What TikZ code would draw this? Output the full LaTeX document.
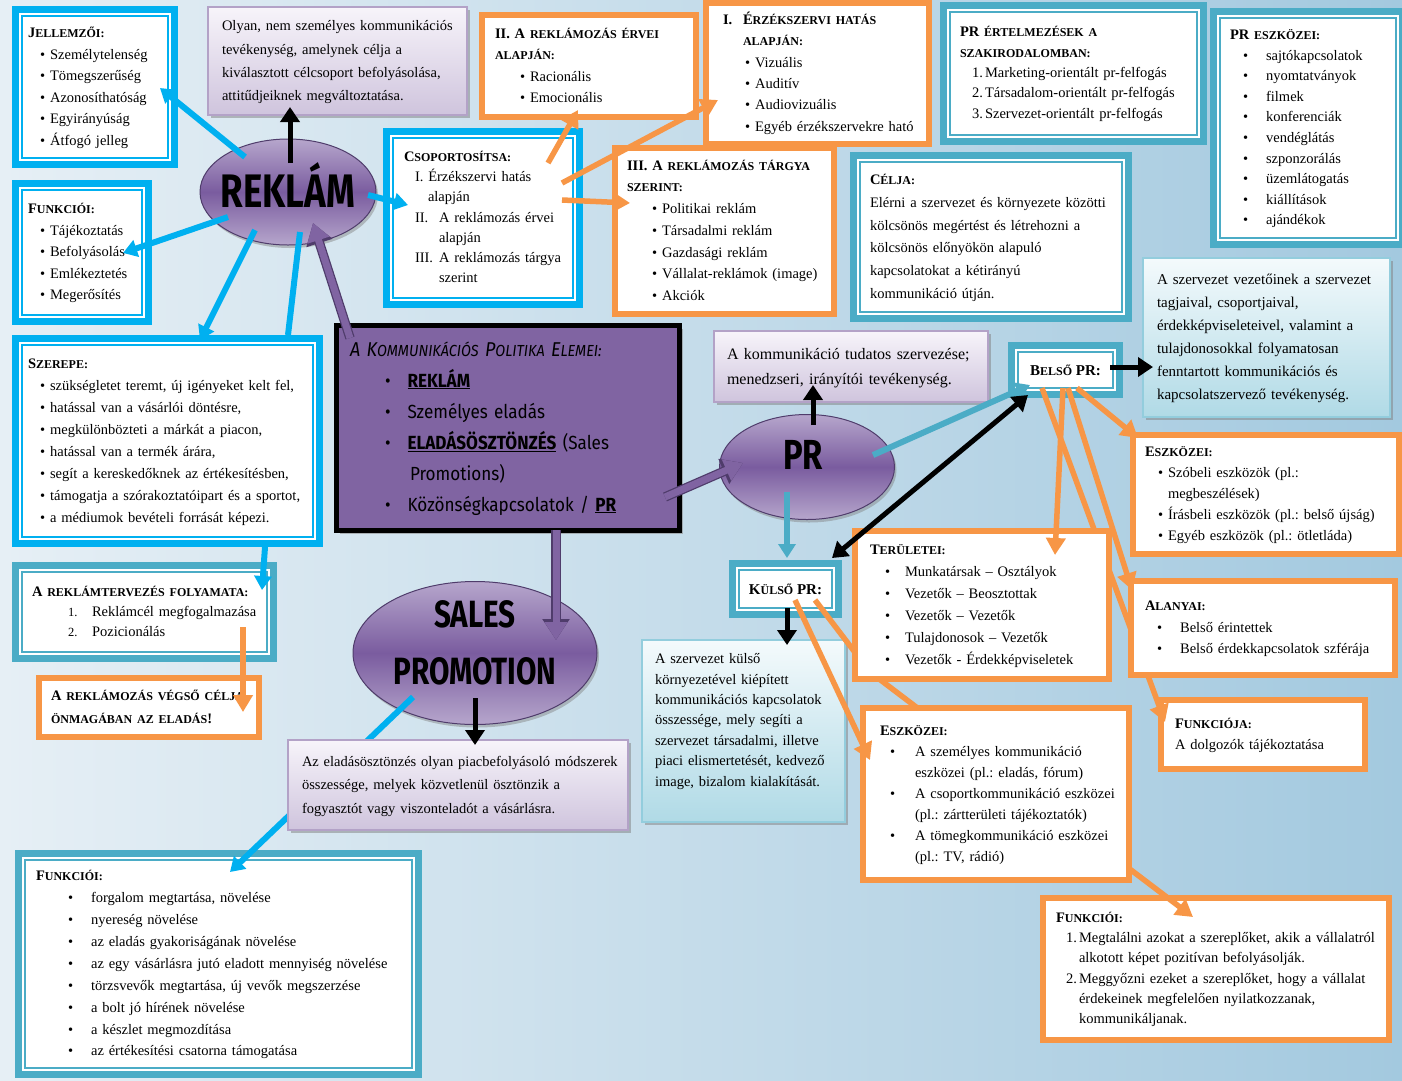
\documentclass[tikz,border=0pt]{standalone}
\usepackage{fontspec}
\setmainfont{Liberation Serif}
\newfontfamily\comic[FakeStretch=0.9]{Fira Sans}
\newfontfamily\comicw[FakeStretch=0.78]{Fira Sans}
\usepackage{tikz}
\usetikzlibrary{arrows.meta, calc, shapes.geometric, shadows}

\definecolor{cyanC}{HTML}{00B0F0}
\definecolor{tealC}{HTML}{4BACC6}
\definecolor{orangeC}{HTML}{F79646}
\definecolor{purC}{HTML}{8064A2}
\definecolor{purL}{HTML}{B6A6CC}
\definecolor{purM}{HTML}{7A5C9F}
\definecolor{purD}{HTML}{4F3C6B}
\definecolor{lavT}{HTML}{F7F4FA}
\definecolor{lavB}{HTML}{CFC4DD}
\definecolor{lavD}{HTML}{B3A2C7}
\definecolor{bluT}{HTML}{F4FAFC}
\definecolor{bluB}{HTML}{B0DAE6}
\definecolor{bluD}{HTML}{93CDDD}
\definecolor{bgL}{HTML}{E6EFF5}
\definecolor{bgR}{HTML}{A3C9DF}

\newcommand{\fs}[2]{\fontsize{#1}{#2}\selectfont}
\newcommand{\hd}[2]{{\bfseries #1{\fs{12}{12}#2}}}
\newcommand{\bl}[2]{\hspace*{#1}\textbullet\hspace{#2}}
\newcommand{\rows}[1]{\begin{tabular}{@{}l@{}}#1\end{tabular}}

\begin{document}
\frenchspacing
\begin{tikzpicture}[x=1pt, y=-1pt, thick,
  fr/.style={draw=#1, fill=white, line width=1.6pt, double=white,
    double distance=2pt, preaction={draw=#1, line width=16pt},
    align=left, inner ysep=2pt, font=\fs{14.5}{21.5}},
  cbox/.style={fr=cyanC},
  tbox/.style={fr=tealC},
  obox/.style={draw=orangeC, line width=6pt, fill=white, align=left,
    inner ysep=2pt, font=\fs{14.5}{21.5}},
  lbox/.style={draw=lavD, line width=1.2pt, top color=lavT, bottom color=lavB,
    drop shadow={shadow xshift=3pt, shadow yshift=-3pt, fill=black!50, opacity=.5},
    align=left, font=\fs{14.5}{23.3}},
  bbox/.style={lbox, draw=bluD, top color=bluT, bottom color=bluB},
  oval/.style={ellipse, draw=purD, line width=1pt, top color=purL,
    bottom color=purL, middle color=purM, inner sep=0pt,
    drop shadow={shadow xshift=2pt, shadow yshift=-3pt, fill=black!50, opacity=.45}},
  dims/.style n args={4}{minimum width=#1pt, minimum height=#2pt,
    inner xsep=#3pt, text width=#4pt},
  cyanarr/.style={draw=cyanC, line width=6pt, -{Triangle[length=14pt,width=17pt]}},
  tealarr/.style={cyanarr, draw=tealC},
  orarr/.style={draw=orangeC, line width=5.5pt, -{Triangle[length=17pt,width=19pt]}},
  blkarr/.style={draw=black, line width=5pt, -{Triangle[length=15pt,width=19pt]}},
  purarr/.style={draw=purC, line width=7pt, -{Triangle[length=18pt,width=22pt]},
    preaction={draw=purD, line width=9.5pt, -{Triangle[length=21pt,width=26pt]}}}]

\clip (0,0) rectangle (1402,1080);
\shade[left color=bgL, right color=bgR] (0,0) rectangle (1402,1080);

% ovals
\node[oval, minimum width=176pt, minimum height=106pt,
  label={[font=\comicw\bfseries\fs{47}{47}, yshift=7pt]center:REKLÁM}] (reklam) at (288,192) {};
\node[oval, minimum width=244pt, minimum height=143pt,
  label={[align=center, font=\comicw\bfseries\fs{38}{57}, yshift=10pt]center:SALES\\PROMOTION}] (sales) at (475,653) {};
\node[oval, minimum width=175pt, minimum height=105pt,
  label={[font=\comicw\bfseries\fs{42}{42}, xshift=-4pt, yshift=12pt]center:PR}] (pr) at (807,467) {};

\node[cbox, dims={150}{146}{8}{134}] (jell) at (95,87) {\rows{%
  \hd{J}{ELLEMZŐI:}\\
  \bl{12pt}{5pt}Személytelenség\\
  \bl{12pt}{5pt}Tömegszerűség\\
  \bl{12pt}{5pt}Azonosíthatóság\\
  \bl{12pt}{5pt}Egyirányúság\\
  \bl{12pt}{5pt}Átfogó jelleg}};

\node[lbox, dims={259}{108}{14}{231}] (olyan) at (337.5,61) {\rows{%
  Olyan, nem személyes kommunikációs\\
  tevékenység, amelynek célja a\\
  kiválasztott célcsoport befolyásolása,\\
  attitűdjeiknek megváltoztatása.}};

\node[cbox, dims={124}{129}{8}{108}] (funk1) at (82,252.5) {\rows{%
  \hd{F}{UNKCIÓI:}\\
  \bl{12pt}{5pt}Tájékoztatás\\
  \bl{12pt}{5pt}Befolyásolás\\
  \bl{12pt}{5pt}Emlékeztetés\\
  \bl{12pt}{5pt}Megerősítés}};

\node[cbox, dims={184}{164}{13}{158}, font=\fs{14.5}{20.3}] (csop) at (483,218) {\rows{%
  \hd{C}{SOPORTOSÍTSA:}\\
  \hspace*{11pt}I. Érzékszervi hatás\\
  \hspace*{24pt}alapján\\
  \hspace*{11pt}\makebox[24pt][l]{II.}A reklámozás érvei\\
  \hspace*{35pt}alapján\\
  \hspace*{11pt}\makebox[24pt][l]{III.}A reklámozás tárgya\\
  \hspace*{35pt}szerint}};

\node[obox, dims={214}{102}{13}{188}] (ervei) at (589,66) {\rows{%
  \hd{II. A\ }{REKLÁMOZÁS ÉRVEI}\\
  \hd{}{ALAPJÁN:}\\
  \bl{25pt}{5pt}Racionális\\
  \bl{25pt}{5pt}Emocionális}};

\node[obox, dims={223}{141}{17}{189}, font=\fs{14.5}{21.4}] (erzek) at (817.5,73.5) {\rows{%
  \makebox[20pt][l]{\textbf{I.}}\hd{É}{RZÉKSZERVI HATÁS}\\
  \hspace*{20pt}\hd{}{ALAPJÁN:}\\
  \bl{22pt}{5pt}Vizuális\\
  \bl{22pt}{5pt}Auditív\\
  \bl{22pt}{5pt}Audiovizuális\\
  \bl{22pt}{5pt}Egyéb érzékszervekre ható}};

\node[obox, dims={219}{166}{12}{195}, font=\fs{14.5}{21.7}] (targy) at (724.5,231) {\rows{%
  \hd{III. A\ }{REKLÁMOZÁS TÁRGYA}\\
  \hd{}{SZERINT:}\\
  \bl{25pt}{5pt}Politikai reklám\\
  \bl{25pt}{5pt}Társadalmi reklám\\
  \bl{25pt}{5pt}Gazdasági reklám\\
  \bl{25pt}{5pt}Vállalat-reklámok (image)\\
  \bl{25pt}{5pt}Akciók}};

\node[tbox, dims={251}{127}{12}{227}, font=\fs{14.5}{20.3}] (ertelm) at (1073.5,73.5) {\rows{%
  \hd{PR\ }{ÉRTELMEZÉSEK A}\\
  \hd{}{SZAKIRODALOMBAN:}\\
  \hspace*{12pt}\makebox[13pt][l]{1.}Marketing-orientált pr-felfogás\\
  \hspace*{12pt}\makebox[13pt][l]{2.}Társadalom-orientált pr-felfogás\\
  \hspace*{12pt}\makebox[13pt][l]{3.}Szervezet-orientált pr-felfogás}};

\node[tbox, dims={180}{224}{12}{156}, font=\fs{14.5}{20.6}] (eszk) at (1308,128) {\rows{%
  \hd{PR\ }{ESZKÖZEI:}\\
  \bl{13pt}{18pt}sajtókapcsolatok\\
  \bl{13pt}{18pt}nyomtatványok\\
  \bl{13pt}{18pt}filmek\\
  \bl{13pt}{18pt}konferenciák\\
  \bl{13pt}{18pt}vendéglátás\\
  \bl{13pt}{18pt}szponzorálás\\
  \bl{13pt}{18pt}üzemlátogatás\\
  \bl{13pt}{18pt}kiállítások\\
  \bl{13pt}{18pt}ajándékok}};

\node[tbox, dims={266}{154}{12}{242}, font=\fs{14.5}{22.8}] (celja) at (991,237) {\rows{%
  \hd{C}{ÉLJA:}\\
  Elérni a szervezet és környezete közötti\\
  kölcsönös megértést és létrehozni a\\
  kölcsönös előnyökön alapuló\\
  kapcsolatokat a kétirányú\\
  kommunikáció útján.}};

\node[cbox, dims={295}{196}{8}{279}, font=\fs{14.5}{21.9}] (szerepe) at (167.5,441) {\rows{%
  \hd{S}{ZEREPE:}\\
  \bl{12pt}{5pt}szükségletet teremt, új igényeket kelt fel,\\
  \bl{12pt}{5pt}hatással van a vásárlói döntésre,\\
  \bl{12pt}{5pt}megkülönbözteti a márkát a piacon,\\
  \bl{12pt}{5pt}hatással van a termék árára,\\
  \bl{12pt}{5pt}segít a kereskedőknek az értékesítésben,\\
  \bl{12pt}{5pt}támogatja a szórakoztatóipart és a sportot,\\
  \bl{12pt}{5pt}a médiumok bevételi forrását képezi.}};

\node[tbox, dims={249}{84}{12}{225}, font=\fs{14.5}{20}] (tervez) at (144.5,612) {\rows{%
  \hd{A\ }{REKLÁMTERVEZÉS FOLYAMATA:}\\
  \hspace*{36pt}\makebox[24pt][l]{\fs{12.5}{12}1.}Reklámcél megfogalmazása\\
  \hspace*{36pt}\makebox[24pt][l]{\fs{12.5}{12}2.}Pozicionálás}};

\node[obox, dims={220}{59}{12}{196}, font=\fs{14.5}{23}] (vegso) at (149,707.5) {\rows{%
  \hd{A\ }{REKLÁMOZÁS VÉGSŐ CÉLJA}\\
  \hd{}{ÖNMAGÁBAN AZ ELADÁS}\textbf{!}}};

\node[draw=black, line width=5pt, fill=purC, align=left, dims={343}{205}{14}{315},
  drop shadow={shadow xshift=4pt, shadow yshift=-4pt, fill=black!45, opacity=.6},
  font=\comic\fs{19}{31}] (elemei) at (507.5,427.5) {\rows{%
  {\itshape\fs{20}{31}A K{\fs{16}{31}OMMUNIKÁCIÓS} P{\fs{16}{31}OLITIKA} E{\fs{16}{31}LEMEI:}}\\
  \bl{35pt}{17pt}\textbf{\underline{REKLÁM}}\\
  \bl{35pt}{17pt}Személyes eladás\\
  \bl{35pt}{17pt}\textbf{\underline{ELADÁSÖSZTÖNZÉS}} (Sales\\
  \hspace*{60pt}Promotions)\\
  \bl{35pt}{17pt}Közönségkapcsolatok / \textbf{\underline{PR}}}};

\node[lbox, dims={274}{71}{13}{248}, font=\fs{16}{25}] (tudatos) at (851,366.5) {\rows{%
  A kommunikáció tudatos szervezése;\\
  menedzseri, irányítói tevékenység.}};

\node[tbox, minimum width=99pt, minimum height=40pt, align=center, font=\fs{15}{15}] (belso) at (1065.5,370) {\hd{B}{ELSŐ} \textbf{PR:}};

\node[bbox, dims={247}{159}{14}{219}, font=\fs{15}{23}] (vezetoi) at (1266.5,337.5) {\rows{%
  A szervezet vezetőinek a szervezet\\
  tagjaival, csoportjaival,\\
  érdekképviseleteivel, valamint a\\
  tulajdonosokkal folyamatosan\\
  fenntartott kommunikációs és\\
  kapcsolatszervező tevékenység.}};

\node[tbox, minimum width=97pt, minimum height=42pt, align=center, font=\fs{15}{15}] (kulso) at (785.5,589) {\hd{K}{ÜLSŐ} \textbf{PR:}};

\node[bbox, dims={203}{182}{13}{177}, font=\fs{14.5}{20.4}] (kulsotxt) at (743.5,731) {\rows{%
  A szervezet külső\\
  környezetével kiépített\\
  kommunikációs kapcsolatok\\
  összessége, mely segíti a\\
  szervezet társadalmi, illetve\\
  piaci elismertetését, kedvező\\
  image, bizalom kialakítását.\\
  \mbox{}}};

\node[obox, dims={266}{119}{12}{242}, font=\fs{14.5}{21}] (beszk) at (1266,494.5) {\rows{%
  \hd{E}{SZKÖZEI:}\\
  \bl{13pt}{5pt}Szóbeli eszközök (pl.:\\
  \hspace*{23pt}megbeszélések)\\
  \bl{13pt}{5pt}Írásbeli eszközök (pl.: belső újság)\\
  \bl{13pt}{5pt}Egyéb eszközök (pl.: ötletláda)}};

\node[obox, dims={204}{69}{14}{176}, font=\fs{14.5}{21}] (funkja) at (1263,734.5) {\rows{%
  \hd{F}{UNKCIÓJA:}\\
  A dolgozók tájékoztatása}};

\node[obox, dims={346}{142}{13}{320}, font=\fs{14.5}{20.2}] (funk3) at (1216,969) {\rows{%
  \hd{F}{UNKCIÓI:}\\
  \hspace*{10pt}\makebox[13pt][l]{1.}Megtalálni azokat a szereplőket, akik a vállalatról\\
  \hspace*{23pt}alkotott képet pozitívan befolyásolják.\\
  \hspace*{10pt}\makebox[13pt][l]{2.}Meggyőzni ezeket a szereplőket, hogy a vállalat\\
  \hspace*{23pt}érdekeinek megfelelően nyilatkozzanak,\\
  \hspace*{23pt}kommunikáljanak.}};

\node[tbox, dims={391}{212}{13}{365}, font=\fs{14.5}{21.9}] (funk2) at (218.5,964) {\rows{%
  \hd{F}{UNKCIÓI:}\\
  \bl{32pt}{18pt}forgalom megtartása, növelése\\
  \bl{32pt}{18pt}nyereség növelése\\
  \bl{32pt}{18pt}az eladás gyakoriságának növelése\\
  \bl{32pt}{18pt}az egy vásárlásra jutó eladott mennyiség növelése\\
  \bl{32pt}{18pt}törzsvevők megtartása, új vevők megszerzése\\
  \bl{32pt}{18pt}a bolt jó hírének növelése\\
  \bl{32pt}{18pt}a készlet megmozdítása\\
  \bl{32pt}{18pt}az értékesítési csatorna támogatása}};

% these run behind the boxes placed after them
\draw[orarr] ($(belso)+(-23.5,18)$) -- ($(funkja)+(-98,-12.5)$);
\draw[orarr] ($(kulso)+(29.5,11)$) -- ($(kulso)+(84.5,83)$) -- ($(funk3)+(-23,-52)$);
\draw[cyanarr] ($(sales)+(-62,44)$) -- ($(funk2)+(11.5,-92)$);

\node[obox, dims={254}{148}{15}{224}, font=\fs{14.5}{22}] (terul) at (982,605) {\rows{%
  \hd{T}{ERÜLETEI:}\\
  \bl{15pt}{15pt}Munkatársak – Osztályok\\
  \bl{15pt}{15pt}Vezetők – Beosztottak\\
  \bl{15pt}{15pt}Vezetők – Vezetők\\
  \bl{15pt}{15pt}Tulajdonosok – Vezetők\\
  \bl{15pt}{15pt}Vezetők - Érdekképviseletek}};

\node[obox, dims={266}{172}{17}{232}, font=\fs{14.5}{21}] (eszk2) at (996,794) {\rows{%
  \hd{E}{SZKÖZEI:}\\
  \bl{10pt}{20pt}A személyes kommunikáció\\
  \hspace*{35pt}eszközei (pl.: eladás, fórum)\\
  \bl{10pt}{20pt}A csoportkommunikáció eszközei\\
  \hspace*{35pt}(pl.: zártterületi tájékoztatók)\\
  \bl{10pt}{20pt}A tömegkommunikáció eszközei\\
  \hspace*{35pt}(pl.: TV, rádió)}};

\node[obox, dims={264}{94}{14}{236}] (alany) at (1263,628) {\rows{%
  \hd{A}{LANYAI:}\\
  \bl{12pt}{18pt}Belső érintettek\\
  \bl{12pt}{18pt}Belső érdekkapcsolatok szférája}};

\node[lbox, dims={340}{90}{14}{312}, font=\fs{14.5}{23.5}] (elad) at (458,785) {\rows{%
  Az eladásösztönzés olyan piacbefolyásoló módszerek\\
  összessége, melyek közvetlenül ösztönzik a\\
  fogyasztót vagy viszonteladót a vásárlásra.}};

% reklám links
\draw[cyanarr] ($(reklam)+(-43,-35)$) -- ($(jell)+(65,1)$);
\draw[cyanarr] ($(reklam)+(-60,25)$) -- ($(funk1)+(41,0.5)$);
\draw[cyanarr] ($(reklam)+(-33,38)$) -- ($(szerepe)+(32.5,-101)$);
\draw[draw=cyanC, line width=6pt] ($(reklam)+(12,40)$) -- ($(szerepe)+(120.5,-106)$);
\draw[cyanarr] ($(reklam)+(80,3)$) -- ($(csop)+(-75,-13)$);
\draw[cyanarr] ($(szerepe)+(97.5,106)$) -- ($(tervez)+(117.5,-22)$);
\draw[orarr] ($(tervez)+(98.5,15)$) -- ($(vegso)+(94,4.5)$);
\draw[blkarr] ($(reklam)+(2,-29)$) -- ($(olyan)+(-47.5,46)$);

\draw[orarr] ($(csop)+(65,-55)$) -- ($(ervei)+(-11,44)$);
\draw[orarr] ($(csop)+(79,-35)$) -- ($(erzek)+(-99.5,26.5)$);
\draw[orarr] ($(csop)+(79,-18)$) -- ($(targy)+(-94.5,-28)$);

\draw[purarr] ($(elemei)+(-157.5,-89.5)$) -- ($(reklam)+(25,31)$);
\draw[purarr] ($(elemei)+(157.5,69.5)$) -- ($(pr)+(-64,-4)$);
\draw[purarr] ($(elemei)+(48.5,102.5)$) -- ($(sales)+(81,-13)$);
\draw[blkarr] ($(sales)+(0,45)$) -- ($(elad)+(17,-40)$);

% PR links
\draw[blkarr] ($(pr)+(6,-42)$) -- ($(tudatos)+(-38,18.5)$);
\draw[tealarr] ($(pr)+(66,-12)$) -- ($(belso)+(-35.5,15)$);
\draw[tealarr] ($(pr)+(-20,25)$) -- ($(kulso)+(1.5,-31)$);
\draw[blkarr, {Triangle[length=15pt,width=19pt]}-{Triangle[length=15pt,width=19pt]}]
  ($(kulso)+(46.5,-31)$) -- ($(belso)+(-37.5,25)$);
\draw[blkarr] ($(belso)+(44.5,-3)$) -- ($(vezetoi)+(-113.5,29.5)$);
\draw[blkarr] ($(kulso)+(1.5,19)$) -- ($(kulsotxt)+(43.5,-86)$);

\draw[orarr] ($(belso)+(-2.5,18)$) -- ($(terul)+(73,-50)$);
\draw[orarr] ($(belso)+(2.5,18)$) -- ($(alany)+(-131,-38)$);
\draw[orarr] ($(belso)+(11.5,18)$) -- ($(beszk)+(-128,-56.5)$);
\draw[orarr] ($(kulso)+(9.5,11)$) -- ($(eszk2)+(-126,-34)$);
\end{tikzpicture}
\end{document}
